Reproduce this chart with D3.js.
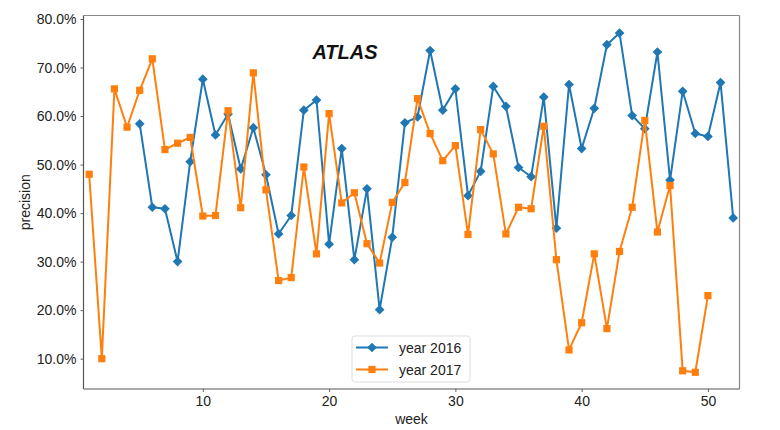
<!DOCTYPE html>
<html>
<head>
<meta charset="utf-8">
<script src="https://cdn.jsdelivr.net/npm/d3@7"></script>
<style>
  html, body { margin: 0; padding: 0; background: #fff; }
  svg { display: block; font-family: "Liberation Sans", Arial, sans-serif; }
</style>
</head>
<body>
<svg id="chart" width="780" height="430"></svg>
<script>
const weeks2016 = d3.range(5, 53);
const values2016 = [58.4, 41.2, 40.9, 30.0, 50.6, 67.6, 56.1, 60.4, 49.1, 57.6,
  47.9, 35.7, 39.5, 61.2, 63.3, 33.6, 53.3, 30.4, 45.0, 20.1,
  35.0, 58.6, 59.8, 73.5, 61.2, 65.6, 43.6, 48.6, 66.1, 62.0,
  49.4, 47.5, 63.9, 36.9, 66.5, 53.3, 61.6, 74.7, 77.1, 60.1,
  57.4, 73.2, 46.8, 65.1, 56.4, 55.8, 66.9, 39.0];
const weeks2017 = d3.range(1, 51);
const values2017 = [48.0, 10.0, 65.6, 57.7, 65.3, 71.8, 53.1, 54.4, 55.6, 39.4,
  39.5, 61.1, 41.1, 68.9, 44.8, 26.1, 26.7, 49.5, 31.6, 60.5,
  42.1, 44.2, 33.7, 29.7, 42.2, 46.3, 63.6, 56.4, 50.8, 53.9,
  35.6, 57.2, 52.2, 35.7, 41.2, 40.9, 57.9, 30.4, 11.8, 17.4,
  31.6, 16.2, 32.1, 41.2, 59.1, 36.1, 45.7, 7.5, 7.2, 23.0];
const xTicks = [10, 20, 30, 40, 50];
const yTicks = [10, 20, 30, 40, 50, 60, 70, 80];
const seriesNames = ["year 2016", "year 2017"];
const titleText = "ATLAS";

const svg = d3.select("#chart");
const L = 83.5, R = 739.5, T = 15.5, B = 389;
const x = d3.scaleLinear().domain([0.55, 52.5]).range([L, R]);
const y = d3.scaleLinear().domain([3.75, 80.72]).range([B, T]);

const fontSize = 14;
const textColor = "#222";

// axes
const xAxis = svg.append("g").attr("transform", `translate(0,${B})`)
  .call(d3.axisBottom(x).tickValues(xTicks).tickSize(3).tickPadding(4).tickFormat(d3.format("d")));
const yAxis = svg.append("g").attr("transform", `translate(${L},0)`)
  .call(d3.axisLeft(y).tickValues(yTicks).tickSize(3).tickPadding(4).tickFormat(d => d.toFixed(1) + "%"));
[xAxis, yAxis].forEach(g => {
  g.select(".domain").remove();
  g.selectAll(".tick line").attr("stroke", "#666").attr("stroke-width", 1);
  g.selectAll(".tick text").attr("fill", textColor).style("font-size", fontSize + "px")
    .style("font-family", "'Liberation Sans', Arial, sans-serif");
});

// spines
svg.append("line").attr("x1", L).attr("x2", R).attr("y1", T).attr("y2", T).attr("stroke", "#888").attr("stroke-width", 1.2);
svg.append("line").attr("x1", R).attr("x2", R).attr("y1", T).attr("y2", B).attr("stroke", "#888").attr("stroke-width", 1.2);
svg.append("line").attr("x1", L).attr("x2", L).attr("y1", T).attr("y2", B).attr("stroke", "#555").attr("stroke-width", 1.2);
svg.append("line").attr("x1", L).attr("x2", R).attr("y1", B).attr("y2", B).attr("stroke", "#555").attr("stroke-width", 1.2);

const colors = ["#1f77b4", "#ff7f0e"];
const diamond = d3.symbol().type(d3.symbolDiamond2).size(60);
const square = d3.symbol().type(d3.symbolSquare).size(52);
const line = d3.line().x(d => x(d[0])).y(d => y(d[1]));

const data2016 = weeks2016.map((w, i) => [w, values2016[i]]);
const data2017 = weeks2017.map((w, i) => [w, values2017[i]]);

function drawSeries(data, color, sym) {
  const g = svg.append("g");
  g.append("path").datum(data).attr("d", line).attr("fill", "none")
    .attr("stroke", color).attr("stroke-width", 2).attr("stroke-linejoin", "round");
  g.selectAll("path.m").data(data).enter().append("path").attr("class", "m")
    .attr("d", sym).attr("fill", color)
    .attr("transform", d => `translate(${x(d[0])},${y(d[1])})`);
}
drawSeries(data2016, colors[0], diamond);
drawSeries(data2017, colors[1], square);

// title
svg.append("text").attr("x", 345).attr("y", 59).attr("text-anchor", "middle")
  .style("font-size", "20px").style("font-weight", "bold").style("font-style", "italic")
  .attr("fill", "#111").text(titleText);

// axis labels
svg.append("text").attr("x", (L + R) / 2).attr("y", 424).attr("text-anchor", "middle")
  .style("font-size", fontSize + "px").attr("fill", textColor).text("week");
svg.append("text").attr("transform", `translate(30,${(T + B) / 2}) rotate(-90)`)
  .attr("text-anchor", "middle").style("font-size", fontSize + "px").attr("fill", textColor).text("precision");

// legend
const lg = svg.append("g").attr("transform", "translate(352,336)");
lg.append("rect").attr("width", 118).attr("height", 46).attr("rx", 3)
  .attr("fill", "#fff").attr("fill-opacity", 0.85).attr("stroke", "#ddd");
const syms = [diamond, square];
seriesNames.forEach((name, i) => {
  const yy = 11.5 + i * 22;
  lg.append("line").attr("x1", 4).attr("x2", 36).attr("y1", yy).attr("y2", yy)
    .attr("stroke", colors[i]).attr("stroke-width", 2);
  lg.append("path").attr("d", syms[i]).attr("fill", colors[i]).attr("transform", `translate(20,${yy})`);
  lg.append("text").attr("x", 47).attr("y", yy + 5).style("font-size", fontSize + "px")
    .attr("fill", textColor).text(name);
});
</script>
</body>
</html>
